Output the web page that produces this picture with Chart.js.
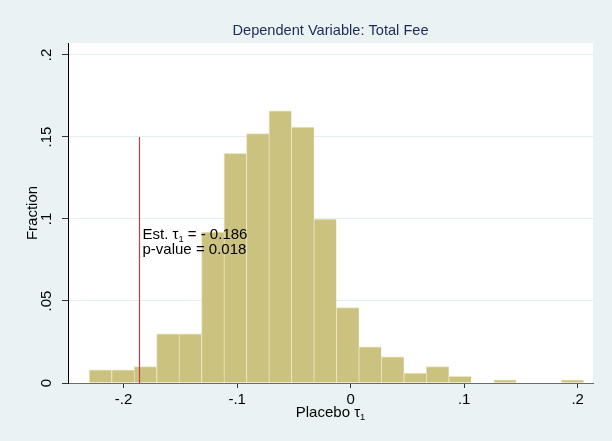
<!DOCTYPE html>
<html>
<head>
<meta charset="utf-8">
<script src="https://cdn.jsdelivr.net/npm/chart.js@4.4.0/dist/chart.umd.min.js"></script>
<style>
  html, body { margin: 0; padding: 0; background: #eaf2f3; }
  #wrap { width: 612px; height: 441px; }
</style>
</head>
<body>
<div id="wrap"><canvas id="chart"></canvas></div>
<script>
// histogram of placebo estimates: bin centres and fraction in each bin
const binCenters = [-0.2205, -0.2007, -0.1809, -0.1611, -0.1413, -0.1215, -0.1017, -0.0819,
  -0.0621, -0.0423, -0.0225, -0.0027, 0.0171, 0.0369, 0.0567, 0.0765, 0.0963, 0.1161,
  0.1359, 0.1557, 0.1755, 0.1953];
const fractions = [0.008, 0.008, 0.010, 0.030, 0.030, 0.092, 0.140, 0.152,
  0.166, 0.156, 0.100, 0.046, 0.022, 0.016, 0.006, 0.010, 0.004, 0,
  0.002, 0, 0, 0.002];
const xTicks = [-0.2, -0.1, 0, 0.1, 0.2];
const yTicks = [0, 0.05, 0.1, 0.15, 0.2];
const estTau = -0.186;
const estLineTop = 0.15;
const estLabel = '- 0.186';
const pValueLabel = 'p-value = 0.018';
const titleText = 'Dependent Variable: Total Fee';

const FONT = '"Liberation Sans", Arial, sans-serif';
const fontPx = 15;

function stataNum(v) {
  if (Math.abs(v) < 1e-9) return '0';
  const s = String(Math.abs(v)).replace(/^0/, '');
  return (v < 0 ? '-' : '') + s;
}

// draws "tau" with a subscript 1, returns x after it
function drawTau(ctx, x, y) {
  ctx.font = fontPx + 'px ' + FONT;
  ctx.fillText('\u03c4', x, y);
  x += ctx.measureText('\u03c4').width;
  ctx.font = (fontPx * 0.62) + 'px ' + FONT;
  ctx.fillText('1', x, y + 3);
  x += ctx.measureText('1').width;
  ctx.font = fontPx + 'px ' + FONT;
  return x;
}

const stataLook = {
  id: 'stataLook',
  beforeDraw(chart) {
    const {ctx, chartArea: a} = chart;
    ctx.save();
    ctx.fillStyle = '#eaf2f3';
    ctx.fillRect(0, 0, chart.width, chart.height);
    ctx.fillStyle = '#ffffff';
    ctx.fillRect(a.left, a.top, a.right - a.left, a.bottom - a.top);
    ctx.restore();
  },
  afterDraw(chart) {
    const {ctx, chartArea: a} = chart;
    const xs = chart.scales.x, ys = chart.scales.y;
    const midX = (a.left + a.right) / 2;
    ctx.save();
    ctx.textBaseline = 'alphabetic';

    // title
    ctx.fillStyle = '#1e2b57';
    ctx.font = '14.6px ' + FONT;
    ctx.textAlign = 'center';
    ctx.fillText(titleText, midX, 35);

    // y tick labels, rotated like Stata
    ctx.fillStyle = '#000';
    ctx.font = fontPx + 'px ' + FONT;
    ys.ticks.forEach(t => {
      const py = ys.getPixelForValue(t.value);
      ctx.save();
      ctx.translate(51, py);
      ctx.rotate(-Math.PI / 2);
      ctx.textAlign = 'center';
      ctx.fillText(stataNum(t.value), 0, 0);
      ctx.restore();
    });

    // y title
    ctx.save();
    ctx.translate(37, (a.top + a.bottom) / 2);
    ctx.rotate(-Math.PI / 2);
    ctx.textAlign = 'center';
    ctx.fillText('Fraction', 0, 0);
    ctx.restore();

    // x title with subscript
    ctx.textAlign = 'left';
    const w1 = ctx.measureText('Placebo ').width;
    const wt = ctx.measureText('\u03c4').width;
    ctx.font = (fontPx * 0.62) + 'px ' + FONT;
    const ws = ctx.measureText('1').width;
    ctx.font = fontPx + 'px ' + FONT;
    let x0 = midX - (w1 + wt + ws) / 2;
    ctx.fillText('Placebo ', x0, 417);
    drawTau(ctx, x0 + w1, 417);

    // estimate annotation
    const ax = xs.getPixelForValue(estTau) + 3;
    const ay = ys.getPixelForValue(0.0875);
    ctx.fillText('Est. ', ax, ay);
    let nx = drawTau(ctx, ax + ctx.measureText('Est. ').width, ay);
    ctx.fillText(' = ' + estLabel, nx, ay);
    ctx.fillText(pValueLabel, ax, ay + 14.5);
    ctx.restore();
  }
};

new Chart(document.getElementById('chart'), {
  type: 'bar',
  data: {
    datasets: [
      {
        type: 'line',
        order: 0,
        data: [{x: estTau, y: 0}, {x: estTau, y: estLineTop}],
        borderColor: '#b8404c',
        backgroundColor: '#b8404c',
        borderWidth: 1.2,
        pointRadius: 0,
        fill: false
      },
      {
        order: 1,
        data: binCenters.map((c, i) => ({x: c, y: fractions[i]})),
        backgroundColor: '#cbc27f',
        borderColor: '#e9e5bd',
        borderWidth: {left: 1, top: 1, right: 0, bottom: 0},
        borderSkipped: false,
        barPercentage: 1,
        categoryPercentage: 1
      }
    ]
  },
  options: {
    responsive: true,
    maintainAspectRatio: false,
    animation: false,
    layout: {padding: {top: 43, right: 19, left: 0, bottom: 0}},
    plugins: {legend: {display: false}, tooltip: {enabled: false}, title: {display: false}},
    scales: {
      x: {
        type: 'linear',
        offset: false,
        min: -0.249,
        max: 0.2135,
        z: 1,
        afterBuildTicks: s => { s.ticks = xTicks.map(v => ({value: v})); },
        afterFit: s => { s.height = 58; },
        grid: {offset: false, drawOnChartArea: false, drawTicks: true, tickLength: 5, tickColor: '#333', tickWidth: 1},
        border: {display: true, color: '#6b6b6b', width: 1},
        ticks: {
          color: '#000',
          font: {family: FONT, size: fontPx},
          padding: 3,
          maxRotation: 0,
          autoSkip: false,
          callback: v => stataNum(v)
        }
      },
      y: {
        type: 'linear',
        min: 0,
        max: 0.2073,
        afterBuildTicks: s => { s.ticks = yTicks.map(v => ({value: v})); },
        afterFit: s => { s.width = 68; },
        grid: {color: '#e3eef0', lineWidth: 1, drawTicks: true, tickLength: 6, tickColor: '#333'},
        border: {display: true, color: '#000', width: 1},
        ticks: {display: false}
      }
    }
  },
  plugins: [stataLook]
});
</script>
</body>
</html>
